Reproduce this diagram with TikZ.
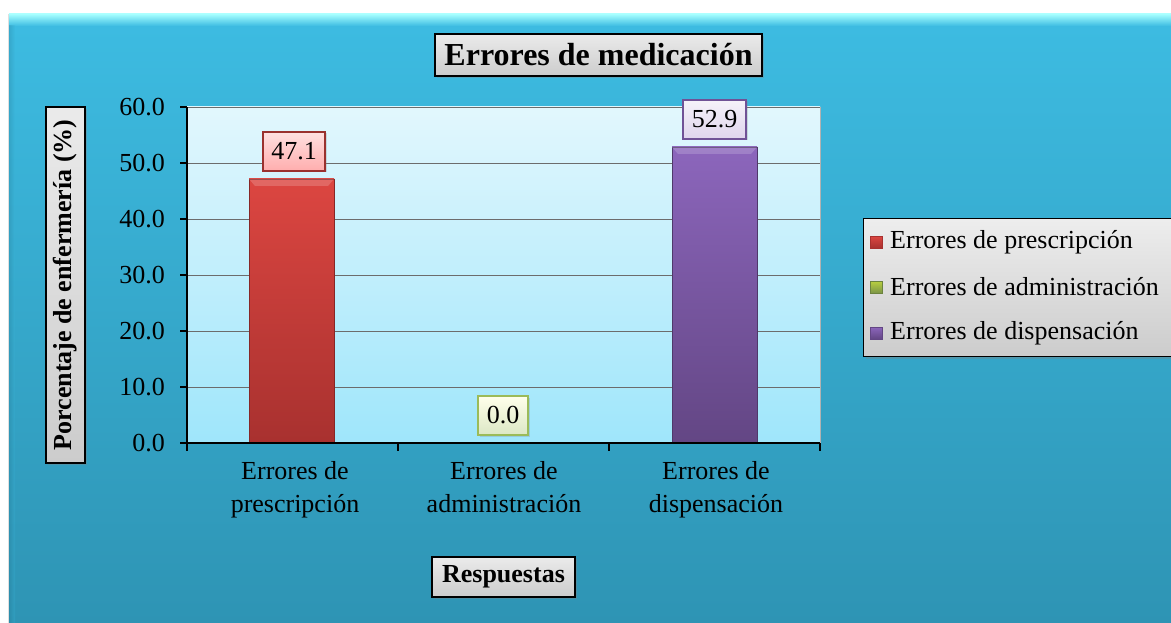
\documentclass[tikz,border=0pt]{standalone}
\usepackage{fontspec}
\setmainfont{Liberation Serif}
\usetikzlibrary{shadows}
\definecolor{bgtop}{HTML}{3DBCE2}
\definecolor{bgbot}{HTML}{2E94B4}
\definecolor{pltop}{HTML}{E2F7FD}
\definecolor{plbot}{HTML}{9FE6FB}
\definecolor{redtop}{HTML}{DC4641}
\definecolor{redbot}{HTML}{A8312F}
\definecolor{purtop}{HTML}{8C66BC}
\definecolor{purbot}{HTML}{634684}
\definecolor{grnbox}{HTML}{9BBB59}
\tikzset{
  boxlabel/.style={draw=black, line width=1.8pt, top color=white!92!black, bottom color=white!80!black, font=\bfseries\fontsize{26}{30}\selectfont, inner sep=0pt, drop shadow={opacity=0.35, shadow xshift=2pt, shadow yshift=-2pt}},
  ticklab/.style={font=\fontsize{26}{30}\selectfont, anchor=east, inner sep=0pt},
  catlab/.style={font=\fontsize{26}{33}\selectfont, align=center, anchor=north, inner sep=0pt},
  vallab/.style={draw=#1, line width=1.2pt, font=\fontsize{26}{30}\selectfont, inner sep=0pt, minimum height=39pt, drop shadow={opacity=0.25, shadow xshift=1.5pt, shadow yshift=-1.5pt}},
  legtext/.style={font=\fontsize{26}{30}\selectfont, anchor=west, inner sep=0pt},
  gridl/.style={draw=gray!85!black, line width=0.9pt}
}
\begin{document}
\begin{tikzpicture}[x=1pt,y=-1pt]
\useasboundingbox (0,0) rectangle (1171,623);
% background
\fill[white] (0,0) rectangle (1171,623);
\draw[gray!25, line width=1pt] (8.5,14) -- (8.5,623);
\shade[top color=bgtop, bottom color=bgbot] (9,14) rectangle (1171,623);
\shade[top color=cyan!35!white, bottom color=bgtop] (9,14) rectangle (1171,26);
\shade[left color=bgbot!80!black, right color=bgtop, opacity=0.25] (9,26) rectangle (15,623);
% plot area
\shade[top color=pltop, bottom color=plbot] (187,107) rectangle (820,443);
\draw[gray!60, line width=0.8pt] (820,107) -- (820,443);
% gridlines
\foreach \y in {107,163,219,275,331,387}{
  \draw[gridl] (187,\y) -- (820,\y);
}
% bars
\shade[top color=redtop, bottom color=redbot, draw=redbot!80!black, line width=0.6pt] (249,179) rectangle (334,443);
\fill[white, opacity=0.18] (249,179) -- (334,179) -- (328,186) -- (255,186) -- cycle;
\shade[top color=purtop, bottom color=purbot, draw=purbot!80!black, line width=0.6pt] (672,147) rectangle (757,443);
\fill[white, opacity=0.18] (672,147) -- (757,147) -- (751,154) -- (678,154) -- cycle;
% axes
\coordinate (o) at (187,443);
\coordinate (yt) at (187,107);
\coordinate (xr) at (820,443);
\draw[black, line width=1.2pt] (yt) -- (o) -- (xr);
\foreach \v/\y in {60.0/107,50.0/163,40.0/219,30.0/275,20.0/331,10.0/387,0.0/443}{
  \draw[black, line width=1.2pt] (180,\y) -- (187,\y);
  \node[ticklab] at (165,\y) {\v};
}
\foreach \x in {187,398,609,820}{
  \draw[black, line width=1.2pt] (\x,443) -- (\x,451);
}
% category labels
\node[catlab] (c1) at (295,461) {Errores de\\prescripción};
\node[catlab] (c2) at (504,461) {Errores de\\administración};
\node[catlab] (c3) at (716,461) {Errores de\\dispensación};
% value labels
\node[vallab=redtop!70!black, top color=red!12!white, bottom color=red!32!white, minimum width=62pt] (v1) at (294,151.5) {47.1};
\node[vallab=purtop!80!black, top color=purtop!8!white, bottom color=purtop!28!white, minimum width=63pt] (v3) at (714.5,119.5) {52.9};
\node[vallab=grnbox, top color=yellow!8!white, bottom color=grnbox!35!white, minimum width=50pt] (v2) at (503,415.5) {0.0};
% titles
\node[boxlabel, font=\bfseries\fontsize{32}{36}\selectfont, minimum width=327pt, minimum height=42pt] (title) at (598.5,55) {Errores de medicación};
\node[boxlabel, rotate=90, minimum width=356pt, minimum height=39pt] (ytitle) at (65.5,285) {Porcentaje de enfermería (\%)};
\node[boxlabel, minimum width=143pt, minimum height=40pt] (xtitle) at (503.5,577) {Respuestas};
% legend
\node[draw=black, line width=1.4pt, top color=white!93!black, bottom color=white!80!black, minimum width=320pt, minimum height=138pt, anchor=north west, inner sep=0pt, drop shadow={opacity=0.35, shadow xshift=2pt, shadow yshift=-2pt}] (legend) at (863,218) {};
\shade[top color=redtop, bottom color=redbot, draw=redbot] (870,236) rectangle (882,248);
\node[legtext] (l1) at (890,242) {Errores de prescripción};
\shade[top color=grnbox!70!yellow, bottom color=grnbox!80!black, draw=grnbox!70!black] (870,281) rectangle (882,293);
\node[legtext] (l2) at (890,287) {Errores de administración};
\shade[top color=purtop, bottom color=purbot, draw=purbot] (870,327) rectangle (882,339);
\node[legtext] (l3) at (890,333) {Errores de dispensación};
\end{tikzpicture}
\end{document}
